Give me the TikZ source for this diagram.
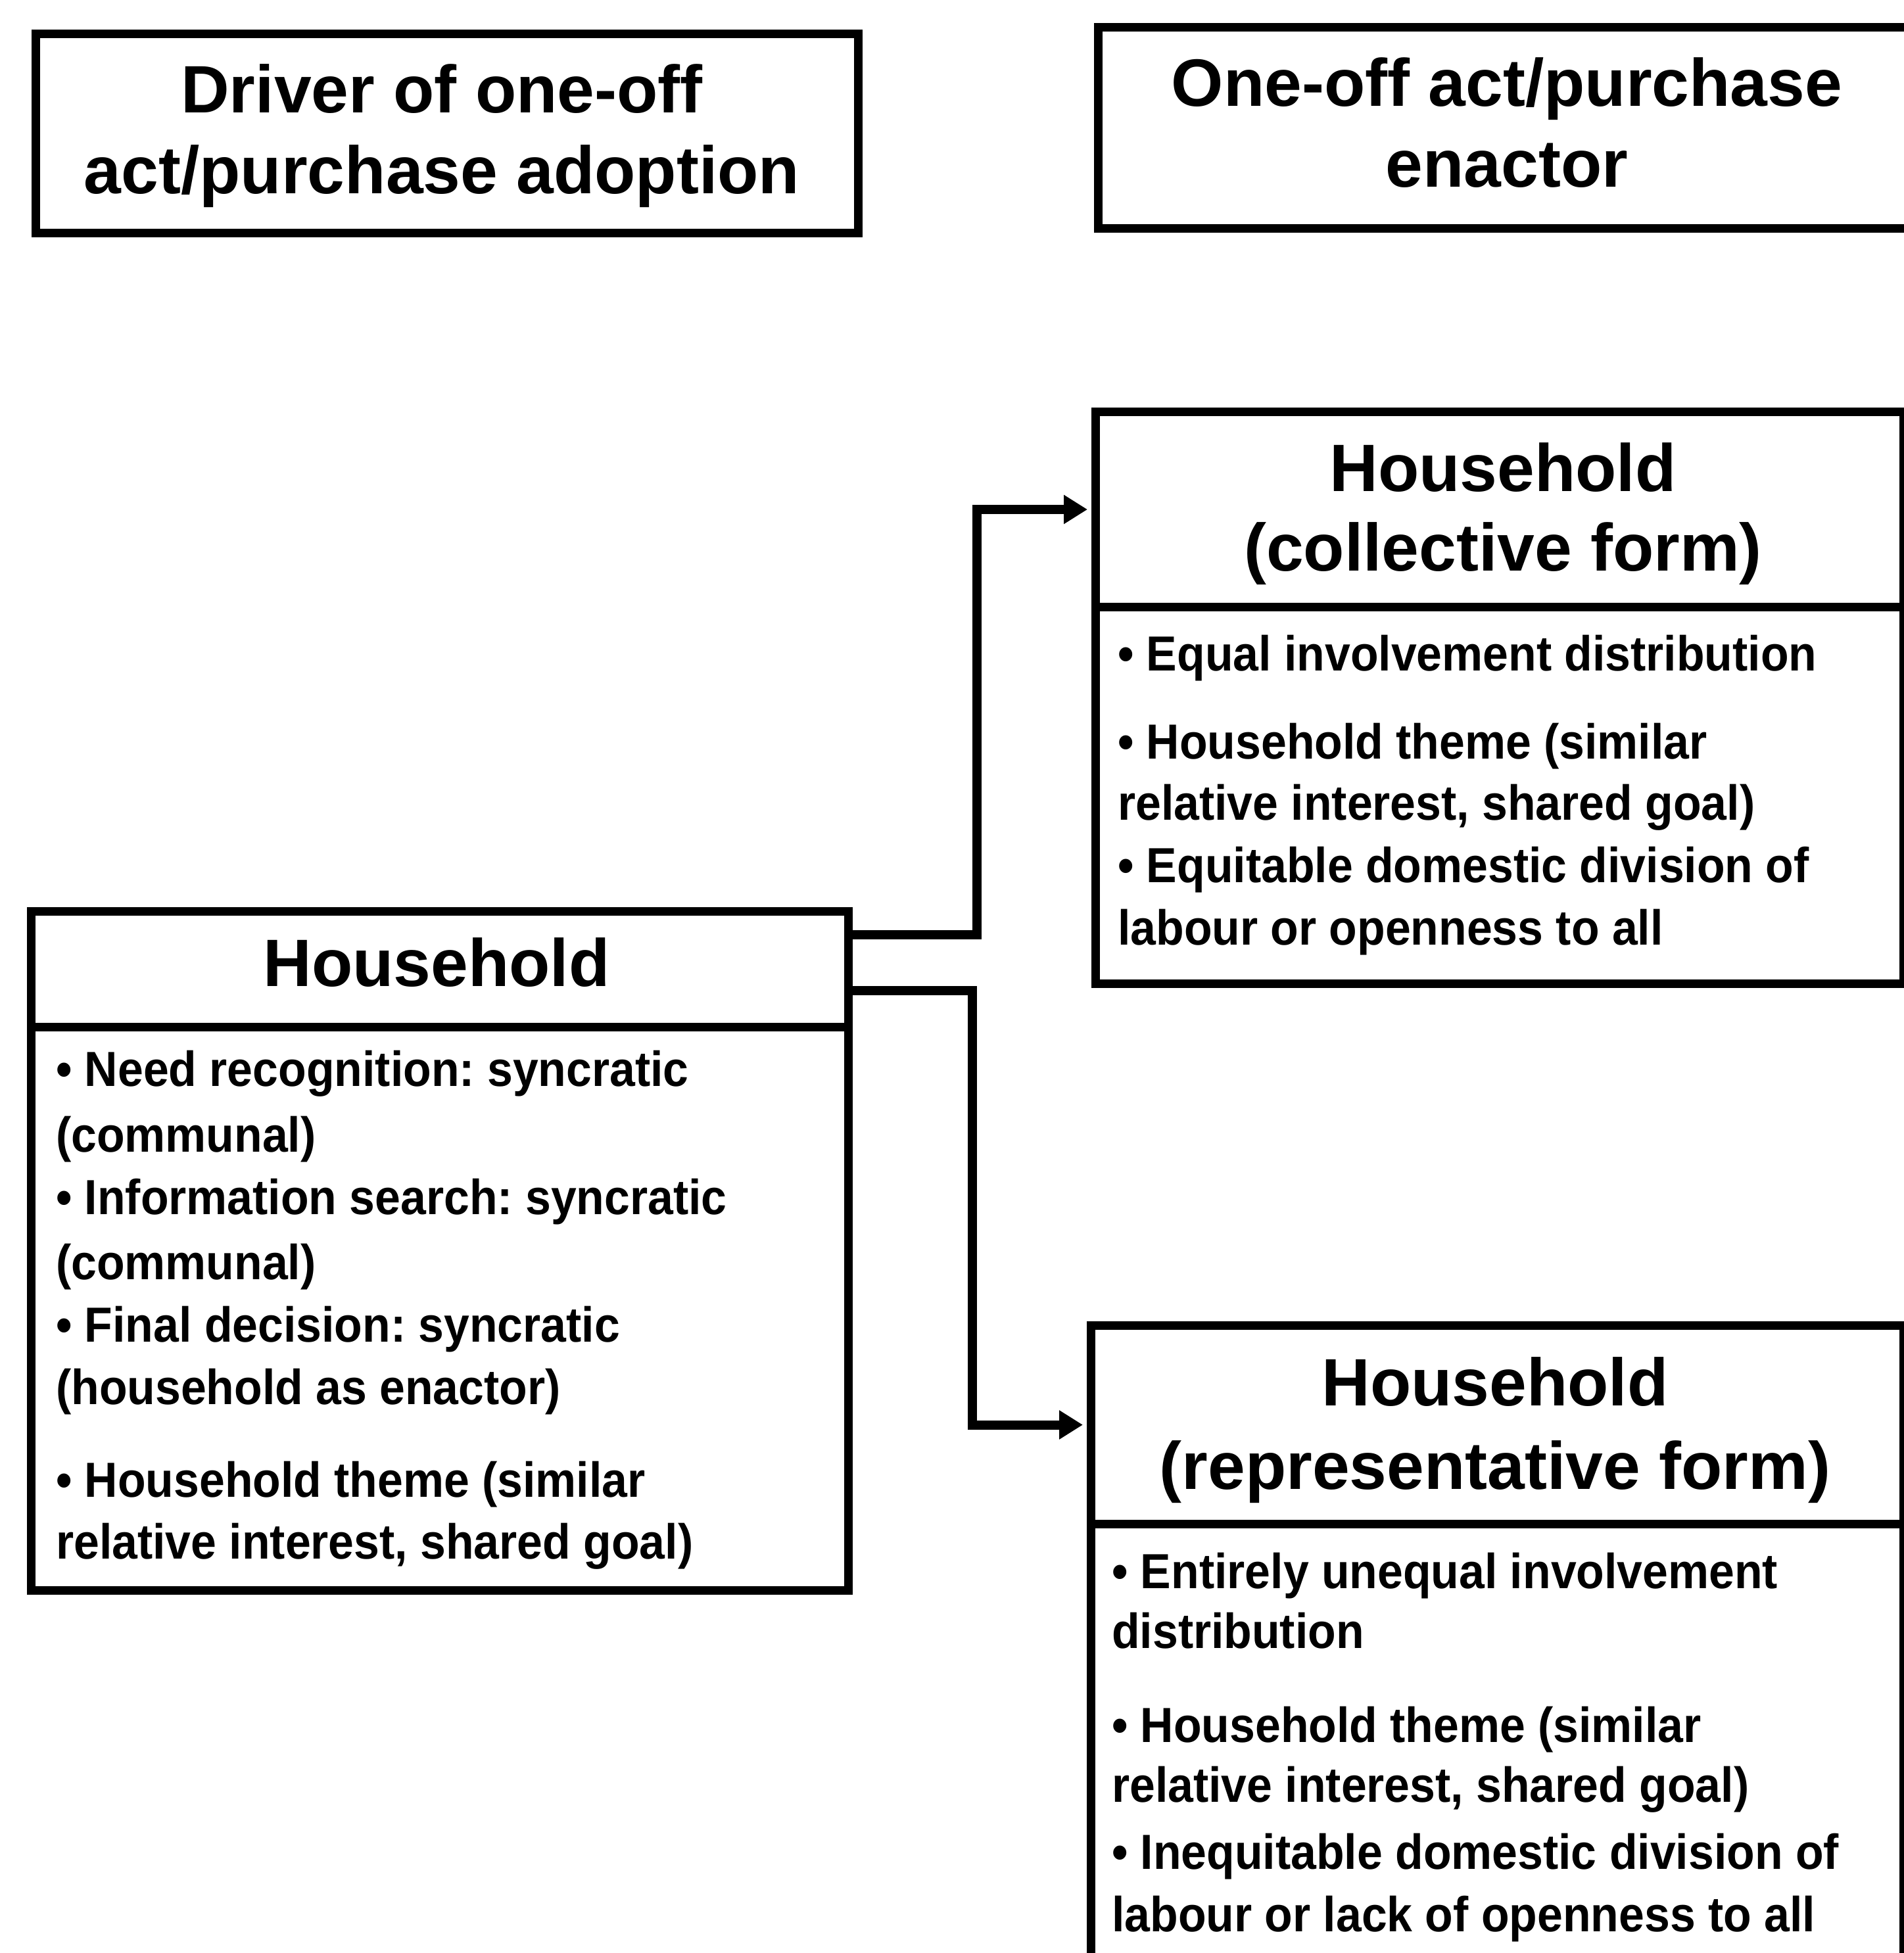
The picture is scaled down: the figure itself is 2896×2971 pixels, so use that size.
\documentclass[tikz,border=0pt]{standalone}
\usepackage{fontspec}
\setmainfont{Liberation Sans}
\newfontfamily\bodyfont[FakeStretch=0.93]{Liberation Sans}
\usetikzlibrary{arrows.meta}
\frenchspacing

\begin{document}
\begin{tikzpicture}[x=1pt,y=-1pt,
  box/.style={draw=black,line width=13pt,line join=miter,inner sep=0pt,anchor=north west},
  title/.style={font=\fontsize{102}{123}\selectfont\bfseries,inner sep=0pt,anchor=base},
  item/.style={font=\bodyfont\bfseries\fontsize{75}{95}\selectfont,inner sep=0pt,anchor=base west},
  link/.style={line width=14pt,line join=miter,shorten >=6pt,-{Triangle[length=36pt,width=42pt]}}
]
\useasboundingbox (0,0) rectangle (2896,2971);
\fill[white] (0,0) rectangle (2896,2971);

% header boxes
\node[box,minimum width=1251pt,minimum height=303pt] (drv) at (48,45) {};
\node[box,minimum width=1260pt,minimum height=306pt] (enc) at (1664,35) {};
\node[title] (drv1) at (672,171) {Driver of one-off};
\node[title] (drv2) at (672,294) {act/purchase adoption};
\node[title] (enc1) at (2292,161) {One-off act/purchase};
\node[title] (enc2) at (2292,284) {enactor};

% household (driver side)
\node[box,minimum width=1243pt,minimum height=176pt] (hhT) at (41,1380) {};
\node[box,minimum width=1243pt,minimum height=857pt] (hhB) at (41,1556) {};
\node[title] (hht) at (664,1500) {Household};
\node[item] (h1) at (85,1652) {\textbullet\ Need recognition: syncratic};
\node[item] (h2) at (85,1752) {(communal)};
\node[item] (h3) at (85,1847) {\textbullet\ Information search: syncratic};
\node[item] (h4) at (85,1946) {(communal)};
\node[item] (h5) at (85,2041) {\textbullet\ Final decision: syncratic};
\node[item] (h6) at (85,2136) {(household as enactor)};
\node[item] (h7) at (85,2277) {\textbullet\ Household theme (similar};
\node[item] (h8) at (85,2371) {relative interest, shared goal)};

% household, collective form
\node[box,minimum width=1229pt,minimum height=297pt] (colT) at (1660,620) {};
\node[box,minimum width=1229pt,minimum height=573pt] (colB) at (1660,917) {};
\node[title] (ct1) at (2286,747) {Household};
\node[title] (ct2) at (2286,868) {(collective form)};
\node[item] (c1) at (1700,1020) {\textbullet\ Equal involvement distribution};
\node[item] (c2) at (1700,1154) {\textbullet\ Household theme (similar};
\node[item] (c3) at (1700,1247) {relative interest, shared goal)};
\node[item] (c4) at (1700,1342) {\textbullet\ Equitable domestic division of};
\node[item] (c5) at (1700,1437) {labour or openness to all};

% household, representative form
\node[box,minimum width=1236pt,minimum height=302pt] (repT) at (1653,2010) {};
\node[box,minimum width=1236pt,minimum height=670pt] (repB) at (1653,2312) {};
\node[title] (rt1) at (2274,2138) {Household};
\node[title] (rt2) at (2274,2265) {(representative form)};
\node[item] (r1) at (1691,2416) {\textbullet\ Entirely unequal involvement};
\node[item] (r2) at (1691,2507) {distribution};
\node[item] (r3) at (1691,2650) {\textbullet\ Household theme (similar};
\node[item] (r4) at (1691,2741) {relative interest, shared goal)};
\node[item] (r5) at (1691,2843) {\textbullet\ Inequitable domestic division of};
\node[item] (r6) at (1691,2938) {labour or lack of openness to all};

% connectors
\draw[link] ([yshift=53pt]hhT.east) -- ++(189,0) |- (colT.west);
\draw[link] ([yshift=-32pt]hhT.east) -- ++(182,0) |- (repT.west);
\end{tikzpicture}
\end{document}
